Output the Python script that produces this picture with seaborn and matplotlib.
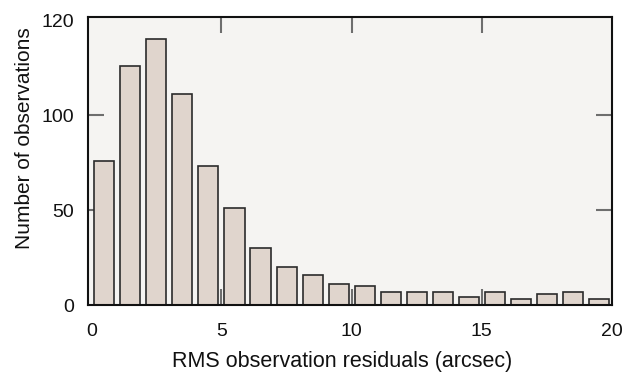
import numpy as np
import pandas as pd
import matplotlib
matplotlib.use("Agg")
import matplotlib.pyplot as plt
import seaborn as sns

# Histogram of RMS residuals, 1-arcsec bins from 0 to 20
bin_starts = list(range(20))
counts = [76, 126, 140, 111, 73, 51, 30, 20, 16, 11, 10, 7, 7, 7, 4, 7, 3, 6, 7, 3]
x_ticks = [0, 5, 10, 15, 20]
y_ticks = [0, 50, 100, 150]
y_tick_labels = ["0", "50", "100", "120"]

sns.set_theme(style="ticks")
plt.rcParams["font.family"] = ["Liberation Sans", "DejaVu Sans"]

fig = plt.figure(figsize=(6.25, 3.72), dpi=100)
ax = fig.add_axes([88.3 / 625, 67 / 372, 523.4 / 625, 287.7 / 372])
ax.set_facecolor("#f5f4f2")

df = pd.DataFrame({"residual": [b + 0.5 for b in bin_starts], "count": counts})
sns.histplot(data=df, x="residual", weights="count", bins=list(range(21)), shrink=0.77,
             color="#e0d5cd", edgecolor="#2b2b2b", linewidth=1.2, alpha=1,
             ax=ax, zorder=3)

ax.set_xlim(-0.12, 20.0)
ax.set_ylim(0, 151.5)

# labels on major ticks, visible tick marks only at interior positions
ax.xaxis.remove_overlapping_locs = False
ax.yaxis.remove_overlapping_locs = False
ax.set_xticks(x_ticks)
ax.set_yticks(y_ticks)
ax.set_yticklabels(y_tick_labels)
ax.set_xticks(x_ticks[1:-1], minor=True)
ax.set_yticks(y_ticks[1:-1], minor=True)

ax.tick_params(axis="x", which="major", length=0, labelsize=14, labelcolor="#111111", pad=13)
ax.tick_params(axis="y", which="major", length=0, labelsize=14, labelcolor="#111111", pad=10)
ax.tick_params(axis="both", which="minor", direction="in", length=11.5, width=1.5,
               color="#6e6e6e", top=True, right=True, bottom=True, left=True)

for side in ["left", "right", "top", "bottom"]:
    ax.spines[side].set_visible(True)
    ax.spines[side].set_color("#111111")
    ax.spines[side].set_linewidth(1.5)
    ax.spines[side].set_zorder(5)

ax.set_xlabel("RMS observation residuals (arcsec)", fontsize=15.5, color="#111111",
              va="baseline", ha="center")
ax.xaxis.set_label_coords(0.484, -0.214)
ax.set_ylabel("Number of observations", fontsize=15, color="#111111",
              va="baseline", ha="center")
ax.yaxis.set_label_coords(-0.1114, 0.579)

fig.savefig("out.png", dpi=100, facecolor="white")
